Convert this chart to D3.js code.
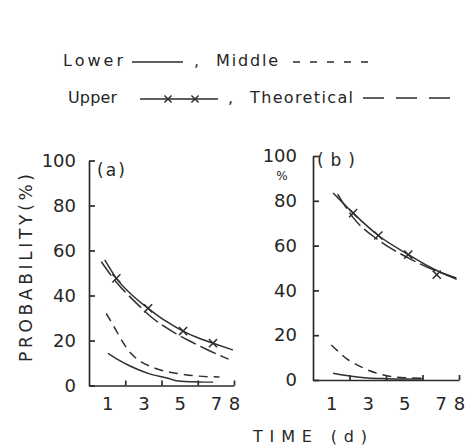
<!DOCTYPE html>
<html>
<head>
  <title>Probability vs time</title>
  <script src="https://d3js.org/d3.v7.min.js"></script>
  <style>
    body { margin: 0; background: #fff; }
    text { font-family: "DejaVu Sans", sans-serif; fill: #262626; }
    .curve { fill: none; stroke: #2f2f2f; stroke-width: 1.5px; }
  </style>
</head>
<body>
<script>
  // tick values
  var xLabels = [1, 3, 5, 7, 8];
  var xTickMarks = [2, 4, 6, 8];
  var yTicks = [0, 20, 40, 60, 80, 100];

  // panel (a) series (day, probability %)
  var aLowerDays = [1.05, 1.6, 2.15, 2.7, 3.26, 4.36, 4.9, 6.0, 6.85];
  var aLowerVals = [14.3, 11.5, 9.1, 7.1, 5.4, 3.2, 2.0, 1.6, 1.5];
  var aMiddleDays = [0.95, 1.3, 1.6, 1.9, 2.35, 2.9, 3.45, 3.9, 4.45, 5.0, 6.0, 7.2];
  var aMiddleVals = [32, 27.2, 23, 18.8, 14, 10.4, 8.3, 7, 5.9, 5.2, 4.2, 3.8];
  var aUpperDays = [0.87, 1.51, 2.4, 3.26, 4.2, 5.19, 6.0, 6.84, 7.94];
  var aUpperVals = [55.8, 47.6, 40, 34.3, 28.8, 24.2, 21.2, 18.8, 15.8];
  var aUpperMarkDays = [1.51, 3.26, 5.19, 6.84];
  var aUpperMarkVals = [47.6, 34.3, 24.2, 18.8];
  var aTheoDays = [0.68, 1.5, 2.5, 3.5, 4.5, 5.5, 6.5, 7.7];
  var aTheoVals = [55, 46, 37.5, 30, 24.5, 20, 16, 11.7];

  // panel (b) series
  var bLowerDays = [1.1, 2.0, 3.0, 4.0, 5.0, 6.0];
  var bLowerVals = [3.0, 1.8, 0.9, 0.6, 0.5, 0.5];
  var bMiddleDays = [1.0, 1.4, 1.85, 2.2, 2.75, 3.1, 3.6, 4.05, 5.0, 6.0];
  var bMiddleVals = [15.6, 12.6, 9.4, 7.7, 5.4, 4.1, 2.8, 1.9, 1.0, 0.8];
  var bUpperDays = [1.1, 2.2, 3.58, 5.22, 6.5, 7.87];
  var bUpperVals = [83.5, 74.5, 64.5, 56, 50, 45];
  var bUpperMarkDays = [2.2, 3.58, 5.22, 6.78];
  var bUpperMarkVals = [74.5, 64.5, 56, 47];
  var bTheoDays = [1.35, 2.2, 3.58, 5.22, 6.5, 7.87];
  var bTheoVals = [83, 72.5, 62.5, 54.5, 49.5, 45.5];

  function pts(days, vals) {
    return days.map(function(d, i) { return { day: d, val: vals[i] }; });
  }

  var svg = d3.select("body").append("svg")
    .attr("width", 465)
    .attr("height", 445);

  var ink = "#2b2b2b";

  function drawPanel(p) {
    var x = d3.scaleLinear().domain([0, 8]).range([p.left, p.right]);
    var y = d3.scaleLinear().domain([0, 100]).range([p.bottom, p.top]);
    var g = svg.append("g");

    var yAx = g.append("g")
      .attr("transform", "translate(" + p.left + ",0)")
      .call(d3.axisLeft(y).tickValues(yTicks).tickSize(-6).tickSizeOuter(0).tickPadding(p.yPad));

    var xAx = g.append("g")
      .attr("transform", "translate(0," + p.bottom + ")")
      .call(d3.axisBottom(x).tickValues(xTickMarks).tickSize(-5).tickSizeOuter(0).tickFormat(""));

    var xLab = g.append("g")
      .attr("transform", "translate(0," + p.bottom + ")")
      .call(d3.axisBottom(x).tickValues(xLabels).tickSize(0).tickPadding(p.xPad));
    xLab.select(".domain").remove();

    [yAx, xAx, xLab].forEach(function(a) {
      a.attr("font-family", null).attr("font-size", 18);
      a.selectAll("path, line").attr("stroke", ink).attr("stroke-width", 1.7);
      a.selectAll("text").attr("fill", "#262626");
    });

    var line = d3.line()
      .x(function(d) { return x(d.day); })
      .y(function(d) { return y(d.val); })
      .curve(d3.curveMonotoneX);

    g.append("path").datum(p.lower).attr("class", "curve").attr("d", line);
    g.append("path").datum(p.middle).attr("class", "curve")
      .attr("stroke-dasharray", "9,6").attr("d", line);
    g.append("path").datum(p.theo).attr("class", "curve")
      .attr("stroke-dasharray", "17,5").attr("d", line);
    g.append("path").datum(p.upper).attr("class", "curve").attr("d", line);

    g.selectAll(".mark").data(p.marks).enter().append("path")
      .attr("class", "curve")
      .attr("transform", function(d) { return "translate(" + x(d.day) + "," + y(d.val) + ")"; })
      .attr("d", d3.symbol().type(d3.symbolTimes).size(45));

    g.append("text")
      .attr("x", p.tagX).attr("y", p.tagY)
      .attr("font-size", 17)
      .attr("textLength", p.tagW).attr("lengthAdjust", "spacing")
      .text(p.tag);
  }

  drawPanel({
    left: 89, right: 234, top: 160.5, bottom: 385.5, yPad: 13, xPad: 12,
    lower: pts(aLowerDays, aLowerVals),
    middle: pts(aMiddleDays, aMiddleVals),
    upper: pts(aUpperDays, aUpperVals),
    marks: pts(aUpperMarkDays, aUpperMarkVals),
    theo: pts(aTheoDays, aTheoVals),
    tag: "(a)", tagX: 97, tagY: 176, tagW: 28
  });

  drawPanel({
    left: 313, right: 459, top: 156, bottom: 380, yPad: 16, xPad: 17,
    lower: pts(bLowerDays, bLowerVals),
    middle: pts(bMiddleDays, bMiddleVals),
    upper: pts(bUpperDays, bUpperVals),
    marks: pts(bUpperMarkDays, bUpperMarkVals),
    theo: pts(bTheoDays, bTheoVals),
    tag: "(b)", tagX: 317, tagY: 166, tagW: 38
  });

  // unit under 100 in panel (b)
  svg.append("text").attr("x", 282).attr("y", 180)
    .attr("text-anchor", "middle").attr("font-size", 12).text("%");

  // axis titles
  svg.append("text")
    .attr("transform", "translate(32,268) rotate(-90)")
    .attr("text-anchor", "middle")
    .attr("font-size", 17)
    .attr("textLength", 188).attr("lengthAdjust", "spacing")
    .text("PROBABILITY(%)");

  svg.append("text")
    .attr("x", 253).attr("y", 442)
    .attr("font-size", 16)
    .attr("textLength", 114).attr("lengthAdjust", "spacing")
    .text("TIME  (d)");

  // legend
  var legend = svg.append("g").attr("class", "legend");

  function word(t, x, y, w) {
    legend.append("text").attr("x", x).attr("y", y)
      .attr("font-size", 16)
      .attr("textLength", w).attr("lengthAdjust", "spacing")
      .text(t);
  }
  function sample(x1, x2, y, dash) {
    legend.append("line")
      .attr("x1", x1).attr("x2", x2).attr("y1", y).attr("y2", y)
      .attr("stroke", ink).attr("stroke-width", 1.6)
      .attr("stroke-dasharray", dash);
  }

  word("Lower", 63, 66, 60);
  sample(132, 183, 62, null);
  word(",", 194, 66, 4);
  word("Middle", 216, 66, 62);
  sample(293, 368, 62, "7,10");

  word("Upper", 68, 103, 49);
  sample(140, 218, 99, null);
  [168, 195].forEach(function(cx) {
    legend.append("path")
      .attr("transform", "translate(" + cx + ",99)")
      .attr("d", d3.symbol().type(d3.symbolTimes).size(35))
      .attr("fill", "none").attr("stroke", ink).attr("stroke-width", 1.4);
  });
  word(",", 228, 103, 4);
  word("Theoretical", 250, 103, 103);
  sample(363, 455, 98, "21,12");
</script>
</body>
</html>
